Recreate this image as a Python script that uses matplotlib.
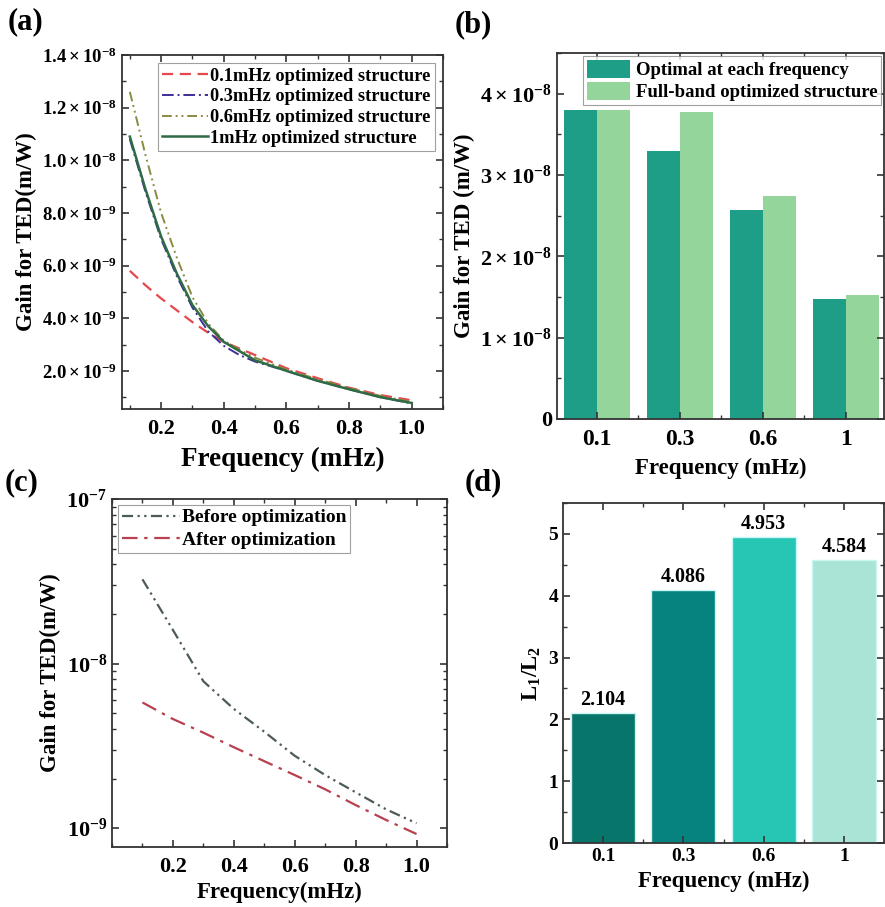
import numpy as np
import matplotlib
matplotlib.use("Agg")
import matplotlib.pyplot as plt
from matplotlib.ticker import MultipleLocator, FuncFormatter, FixedLocator, LogLocator, NullFormatter

plt.rcParams['font.family'] = ['Liberation Serif', 'DejaVu Serif']
plt.rcParams['font.weight'] = 'bold'
plt.rcParams['axes.labelweight'] = 'bold'
plt.rcParams['mathtext.fontset'] = 'custom'
plt.rcParams['mathtext.rm'] = 'Liberation Serif:bold'
plt.rcParams['mathtext.it'] = 'Liberation Serif:bold'
plt.rcParams['mathtext.bf'] = 'Liberation Serif:bold'
plt.rcParams['mathtext.default'] = 'rm'

# ---------------- data ----------------
# (a) gain curves of structures optimized at different frequencies
freq_a = [0.1, 0.15, 0.2, 0.25, 0.3, 0.35, 0.4, 0.45, 0.5, 0.6, 0.7, 0.8, 0.9, 1.0]
gain_01 = [5.8e-9, 5.25e-9, 4.75e-9, 4.3e-9, 3.85e-9, 3.45e-9, 3.1e-9, 2.85e-9, 2.6e-9, 2.1e-9, 1.72e-9, 1.36e-9, 1.08e-9, 0.88e-9]
gain_03 = [1.08e-8, 8.8e-9, 7.0e-9, 5.6e-9, 4.4e-9, 3.5e-9, 2.95e-9, 2.6e-9, 2.35e-9, 2.0e-9, 1.62e-9, 1.3e-9, 1.0e-9, 0.76e-9]
gain_06 = [1.26e-8, 1.02e-8, 8.0e-9, 6.3e-9, 4.8e-9, 3.8e-9, 3.15e-9, 2.8e-9, 2.5e-9, 2.05e-9, 1.68e-9, 1.35e-9, 1.05e-9, 0.82e-9]
gain_1 = [1.09e-8, 8.9e-9, 7.1e-9, 5.7e-9, 4.5e-9, 3.7e-9, 3.1e-9, 2.75e-9, 2.4e-9, 2.0e-9, 1.62e-9, 1.3e-9, 1.0e-9, 0.78e-9]
labels_a = ['0.1mHz optimized structure', '0.3mHz optimized structure',
            '0.6mHz optimized structure', '1mHz optimized structure']

# (b) grouped bars
cats = ['0.1', '0.3', '0.6', '1']
optimal_each = [3.80e-8, 3.30e-8, 2.57e-8, 1.47e-8]
full_band = [3.80e-8, 3.77e-8, 2.74e-8, 1.53e-8]

# (c) before / after optimization (log scale)
freq_c = [0.1, 0.2, 0.3, 0.4, 0.5, 0.6, 0.7, 0.8, 0.9, 1.0]
before_opt = [3.25e-8, 1.6e-8, 7.8e-9, 5.3e-9, 3.85e-9, 2.75e-9, 2.1e-9, 1.65e-9, 1.3e-9, 1.07e-9]
after_opt = [5.8e-9, 4.6e-9, 3.8e-9, 3.1e-9, 2.55e-9, 2.1e-9, 1.72e-9, 1.38e-9, 1.12e-9, 0.92e-9]

# (d) L1/L2 ratio
ratio = [2.104, 4.086, 4.953, 4.584]

# ---------------- layout ----------------
W, H = 885, 907
fig = plt.figure(figsize=(W / 100, H / 100), dpi=100)


def ax_at(l, t, r, b):
    return fig.add_axes([l / W, 1 - b / H, (r - l) / W, (b - t) / H])


def style(ax):
    for s in ax.spines.values():
        s.set_linewidth(1.3)
        s.set_color('#333333')
    ax.tick_params(which='both', direction='in', top=True, right=True, color='#333333')
    ax.tick_params(which='major', length=5, width=1.2)
    ax.tick_params(which='minor', length=3, width=1.0)


# ---------------- (a) ----------------
axa = ax_at(122, 55, 443, 409)
axa.plot(freq_a, gain_01, color='#e5484d', ls=(0, (5, 3)), lw=1.6, label=labels_a[0])
axa.plot(freq_a, gain_03, color='#3b2f9a', ls=(0, (6, 2, 1, 2)), lw=1.4, label=labels_a[1])
axa.plot(freq_a, gain_06, color='#8a8a40', ls=(0, (5, 2, 1, 2, 1, 2)), lw=1.4, label=labels_a[2])
axa.plot(freq_a, gain_1, color='#2f6b45', ls='-', lw=1.8, label=labels_a[3])
axa.set_xlim(0.075, 1.1)
axa.set_ylim(0.55e-9, 1.4e-8)
axa.xaxis.set_major_locator(FixedLocator([0.2, 0.4, 0.6, 0.8, 1.0]))
axa.xaxis.set_minor_locator(MultipleLocator(0.1))
axa.yaxis.set_major_locator(FixedLocator([2e-9, 4e-9, 6e-9, 8e-9, 1e-8, 1.2e-8, 1.4e-8]))
axa.yaxis.set_minor_locator(MultipleLocator(1e-9))


def sci_fmt(v, pos):
    if v == 0:
        return '0'
    e = int(np.floor(np.log10(abs(v)) + 1e-9))
    m = v / 10 ** e
    return r'$%.1f\times10^{%d}$' % (m, e)


axa.yaxis.set_major_formatter(FuncFormatter(sci_fmt))
style(axa)
axa.tick_params(axis='y', labelsize=13.5)
axa.tick_params(axis='x', labelsize=16, pad=7)
axa.set_xlabel('Frequency (mHz)', fontsize=19.5, labelpad=6)
axa.set_ylabel('Gain for TED(m/W)', fontsize=16.5)
leg = axa.legend(loc='upper right', fontsize=13.2, frameon=True, fancybox=False,
                 handlelength=2.5, handletextpad=0.1, borderpad=0.25, labelspacing=0.2,
                 borderaxespad=0.45)
leg.get_frame().set_edgecolor('#888888')
leg.get_frame().set_linewidth(0.8)

# ---------------- (b) ----------------
axb = ax_at(557, 53, 884, 419)
xb = np.arange(len(cats))
axb.bar(xb - 0.2, optimal_each, width=0.4, color='#1f9e87', label='Optimal at each frequency')
axb.bar(xb + 0.2, full_band, width=0.4, color='#94d59b', label='Full-band optimized structure')
axb.set_xlim(-0.48, 3.46)
axb.set_ylim(0, 4.5e-8)
axb.set_xticks(xb)
axb.set_xticklabels(cats)
axb.xaxis.set_minor_locator(FixedLocator(xb[:-1] + 0.5))
axb.yaxis.set_major_locator(MultipleLocator(1e-8))
axb.yaxis.set_minor_locator(MultipleLocator(0.5e-8))


def sci_int(v, pos):
    if abs(v) < 1e-20:
        return '0'
    e = int(np.floor(np.log10(abs(v)) + 1e-9))
    m = int(round(v / 10 ** e))
    return r'$%d\times10^{%d}$' % (m, e)


axb.yaxis.set_major_formatter(FuncFormatter(sci_int))
style(axb)
axb.tick_params(axis='y', labelsize=16)
axb.tick_params(axis='x', labelsize=17, pad=7)
axb.set_xlabel('Frequency (mHz)', fontsize=16.5, labelpad=6)
axb.set_ylabel('Gain for TED (m/W)', fontsize=16.5)
legb = axb.legend(loc='upper right', fontsize=13.5, frameon=True, fancybox=False,
                  handlelength=2.3, handleheight=1.1, handletextpad=0.3, borderpad=0.2,
                  labelspacing=0.15, borderaxespad=0.15)
legb.get_frame().set_edgecolor('#888888')
legb.get_frame().set_linewidth(0.8)

# ---------------- (c) ----------------
axc = ax_at(112, 499, 447, 847)
axc.semilogy(freq_c, before_opt, color='#4d5a5a', ls=(0, (5, 2, 1, 2, 1, 2)), lw=1.6,
             label='Before optimization')
axc.semilogy(freq_c, after_opt, color='#b8404f', ls=(0, (7, 3, 1.5, 3)), lw=1.6,
             label='After optimization')
axc.set_xlim(0.0, 1.1)
axc.set_ylim(10 ** -9.115, 1e-7)
axc.xaxis.set_major_locator(FixedLocator([0.2, 0.4, 0.6, 0.8, 1.0]))
axc.xaxis.set_minor_locator(MultipleLocator(0.1))
axc.yaxis.set_major_locator(FixedLocator([1e-9, 1e-8, 1e-7]))
axc.yaxis.set_minor_locator(FixedLocator([k * 10.0 ** e for e in (-9, -8) for k in range(2, 10)]))
axc.yaxis.set_minor_formatter(NullFormatter())
axc.yaxis.set_major_formatter(FuncFormatter(lambda v, p: r'$10^{%d}$' % int(round(np.log10(v)))))
style(axc)
axc.tick_params(axis='y', labelsize=16)
axc.tick_params(axis='x', labelsize=16, pad=7)
axc.set_xlabel('Frequency(mHz)', fontsize=16.5)
axc.set_ylabel('Gain for TED(m/W)', fontsize=16.5)
legc = axc.legend(loc='upper left', fontsize=14, frameon=True, fancybox=False,
                  handlelength=3.0, handletextpad=0.1, borderpad=0.2, labelspacing=0.25,
                  borderaxespad=0.3)
legc.get_frame().set_edgecolor('#888888')
legc.get_frame().set_linewidth(0.8)

# ---------------- (d) ----------------
axd = ax_at(563, 503, 884, 843)
xd = np.arange(len(cats))
colors_d = ['#08756a', '#07837f', '#27c5b4', '#a9e4d6']
bars = axd.bar(xd, ratio, width=0.8, color=colors_d, edgecolor='#c8f6f2', linewidth=1.0)
for xi, v in zip(xd, ratio):
    axd.text(xi, v + 0.05, '%.3f' % v, ha='center', va='bottom', fontsize=14.5, fontweight='bold')
axd.set_xlim(-0.5, 3.5)
axd.set_ylim(0, 5.5)
axd.set_xticks(xd)
axd.set_xticklabels(cats)
axd.xaxis.set_minor_locator(FixedLocator(xd[:-1] + 0.5))
axd.yaxis.set_major_locator(MultipleLocator(1))
axd.yaxis.set_minor_locator(MultipleLocator(0.5))
style(axd)
axd.tick_params(axis='both', labelsize=14)
axd.set_xlabel('Frequency (mHz)', fontsize=16.5)
axd.set_ylabel(r'L$_1$/L$_2$', fontsize=16.5)

# ---------------- panel labels ----------------
for txt, x, y in [('(a)', 8, 22), ('(b)', 455, 25), ('(c)', 5, 483), ('(d)', 465, 483)]:
    fig.text(x / W, 1 - y / H, txt, fontsize=22, fontweight='bold', va='center', ha='left')

fig.savefig('out.png', dpi=100)
